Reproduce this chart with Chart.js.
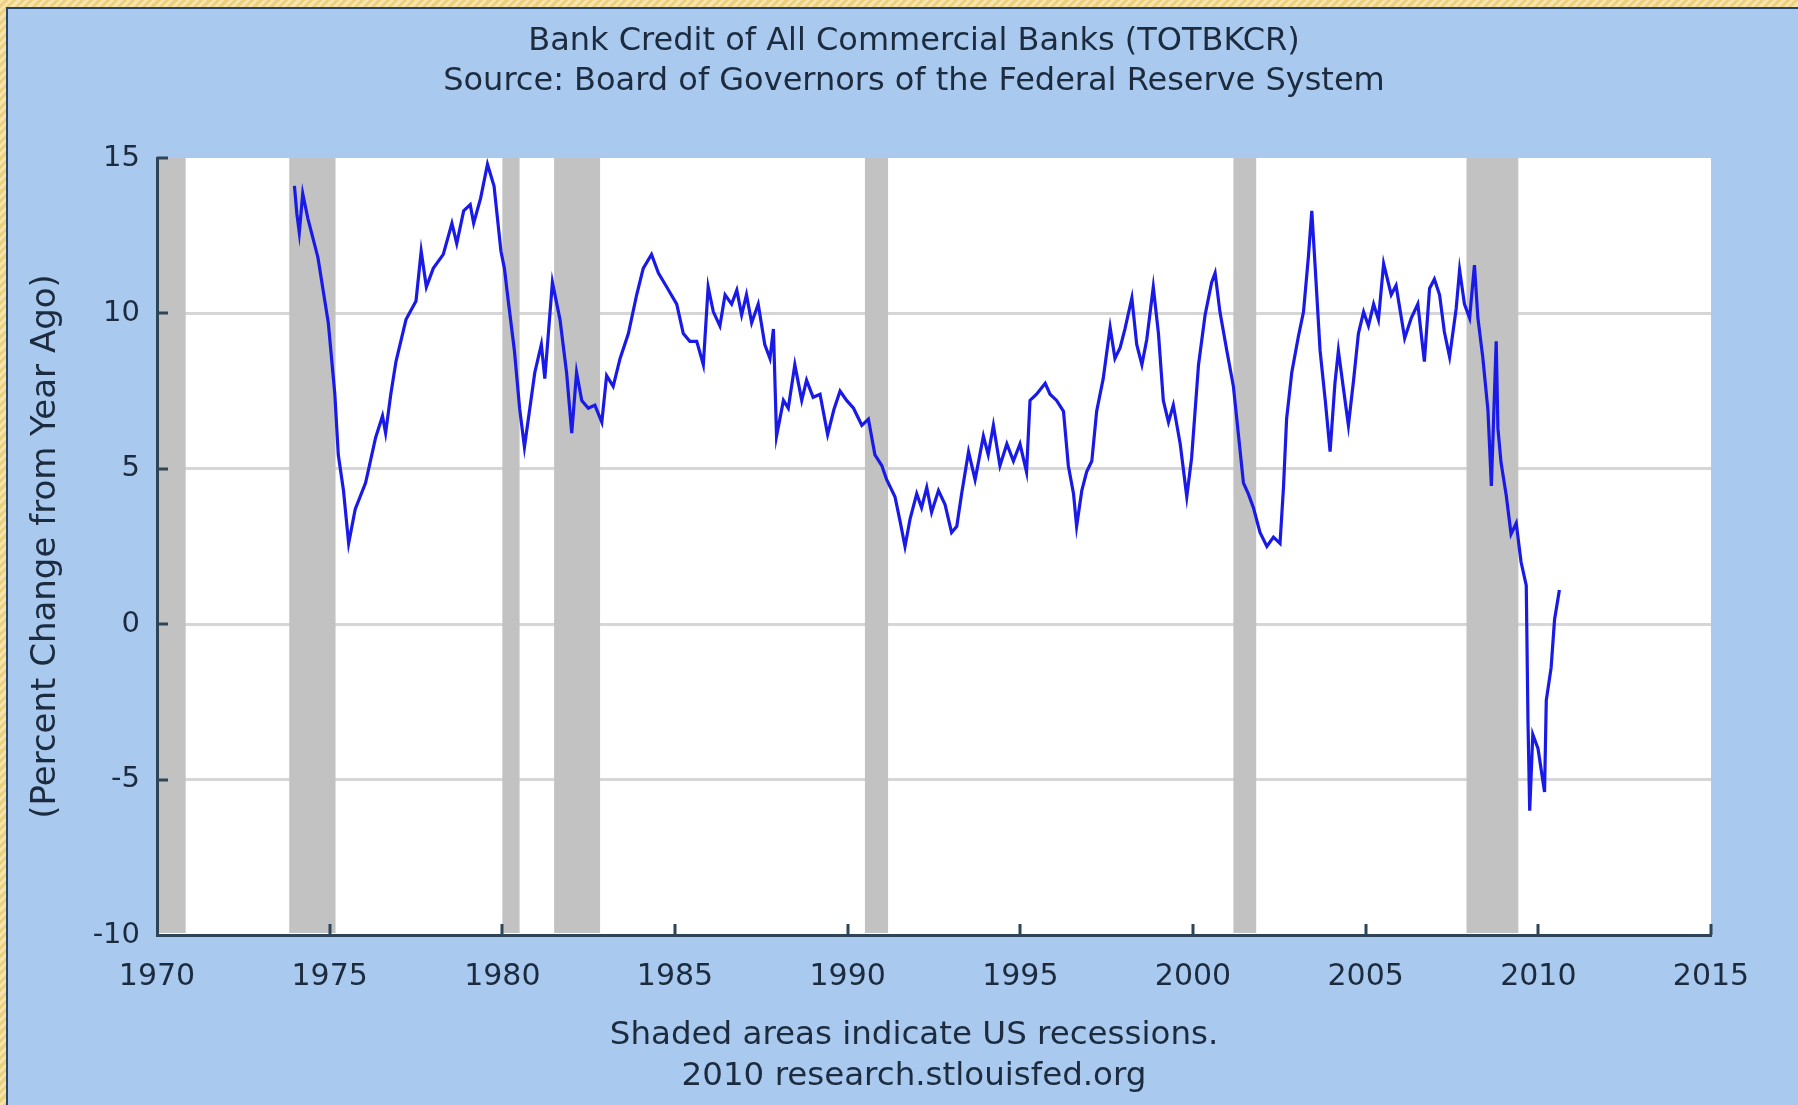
<!DOCTYPE html>
<html>
<head>
<meta charset="utf-8">
<script src="https://cdn.jsdelivr.net/npm/chart.js@4.4.1/dist/chart.umd.min.js"></script>
<style>
html,body{margin:0;padding:0;width:1798px;height:1105px;overflow:hidden;}
body{background:repeating-linear-gradient(135deg,#f8e4aa 0px,#f8e4aa 3px,#edcf80 3px,#edcf80 6px);}
#panel{position:absolute;left:6px;top:7px;right:0;bottom:0;background:#a9c9ef;border-left:2px solid #24466e;border-top:2px solid #24466e;}
#wrap{position:absolute;left:0;top:0;width:1810px;height:1105px;}
canvas{display:block;}
</style>
</head>
<body>
<div id="panel"></div>
<div id="wrap"><canvas id="c" width="1810" height="1105"></canvas></div>
<script>
// ---- text ----
const titleLines = ['Bank Credit of All Commercial Banks (TOTBKCR)', 'Source: Board of Governors of the Federal Reserve System'];
const footerLines = ['Shaded areas indicate US recessions.', '2010 research.stlouisfed.org'];
const yAxisTitle = '(Percent Change from Year Ago)';

// ---- ticks ----
const xTicks = [1970, 1975, 1980, 1985, 1990, 1995, 2000, 2005, 2010, 2015];
const xTickLabels = ['1970', '1975', '1980', '1985', '1990', '1995', '2000', '2005', '2010', '2015'];
const yTicks = [-10, -5, 0, 5, 10, 15];
const yTickLabels = ['-10', '-5', '0', '5', '10', '15'];

// ---- recessions (decimal years) ----
const recessionStart = [1969.92, 1973.83, 1980.0, 1981.5, 1990.5, 2001.17, 2007.92];
const recessionEnd   = [1970.83, 1975.17, 1980.5, 1982.83, 1991.17, 2001.83, 2009.42];

// ---- series: percent change from year ago ----
const years = [
1973.98,1974.05,1974.12,1974.22,1974.37,1974.66,1974.96,1975.15,1975.25,1975.40,1975.55,1975.74,
1976.04,1976.33,1976.53,1976.62,1976.77,1976.92,1977.21,1977.50,1977.65,1977.80,1978.00,1978.29,
1978.54,1978.68,1978.88,1979.07,1979.17,1979.37,1979.57,1979.76,1979.96,1980.06,1980.15,1980.35,
1980.50,1980.64,1980.74,1980.94,1981.13,1981.23,1981.45,1981.67,1981.86,1982.01,1982.15,1982.30,
1982.49,1982.68,1982.88,1983.02,1983.21,1983.41,1983.65,1983.89,1984.08,1984.32,1984.52,1984.76,
1985.05,1985.24,1985.43,1985.63,1985.82,1985.96,1986.11,1986.30,1986.45,1986.64,1986.79,1986.93,
1987.07,1987.22,1987.41,1987.60,1987.75,1987.85,1987.94,1988.14,1988.28,1988.47,1988.67,1988.81,
1989.00,1989.20,1989.42,1989.60,1989.78,1989.97,1990.17,1990.41,1990.60,1990.79,1990.99,1991.13,
1991.37,1991.52,1991.66,1991.81,1992.00,1992.14,1992.29,1992.43,1992.63,1992.82,1993.01,1993.16,
1993.30,1993.50,1993.69,1993.93,1994.07,1994.22,1994.41,1994.61,1994.80,1994.99,1995.18,1995.28,
1995.47,1995.72,1995.86,1996.05,1996.25,1996.39,1996.54,1996.63,1996.78,1996.92,1997.07,1997.21,
1997.40,1997.60,1997.74,1997.89,1998.03,1998.23,1998.37,1998.52,1998.66,1998.85,1999.00,1999.14,
1999.29,1999.43,1999.63,1999.82,1999.96,2000.16,2000.35,2000.54,2000.64,2000.78,2000.98,2001.17,
2001.32,2001.46,2001.60,2001.75,2001.94,2002.14,2002.33,2002.52,2002.62,2002.71,2002.86,2003.05,
2003.20,2003.34,2003.44,2003.54,2003.68,2003.83,2003.97,2004.11,2004.21,2004.36,2004.50,2004.65,
2004.79,2004.94,2005.08,2005.23,2005.37,2005.52,2005.74,2005.88,2006.13,2006.32,2006.51,2006.70,
2006.85,2006.99,2007.14,2007.28,2007.43,2007.62,2007.72,2007.86,2008.01,2008.15,2008.25,2008.39,
2008.54,2008.64,2008.78,2008.83,2008.92,2009.07,2009.21,2009.36,2009.50,2009.65,2009.70,2009.75,
2009.84,2009.99,2010.18,2010.23,2010.37,2010.47,2010.61
];
const values = [
14.1,13.2,12.6,13.85,13.05,11.8,9.7,7.4,5.45,4.3,2.6,3.7,
4.55,6.0,6.7,6.15,7.4,8.45,9.8,10.4,12.0,10.85,11.45,11.9,
12.9,12.25,13.3,13.5,12.9,13.7,14.8,14.1,12.0,11.45,10.6,8.8,
6.95,5.7,6.5,8.1,9.0,7.9,11.0,9.8,8.1,6.15,8.1,7.2,
6.95,7.05,6.5,8.0,7.65,8.55,9.35,10.6,11.45,11.9,11.3,10.85,
10.3,9.35,9.1,9.1,8.35,10.85,10.05,9.6,10.6,10.3,10.75,9.95,
10.6,9.7,10.3,9.0,8.55,9.5,6.05,7.2,6.95,8.35,7.2,7.85,
7.3,7.4,6.1,6.9,7.5,7.2,6.95,6.4,6.6,5.45,5.1,4.65,
4.1,3.3,2.5,3.4,4.2,3.75,4.4,3.6,4.3,3.85,2.95,3.15,
4.2,5.55,4.65,6.05,5.45,6.4,5.1,5.8,5.25,5.8,4.9,7.2,
7.4,7.75,7.4,7.2,6.85,5.1,4.2,3.15,4.3,4.9,5.25,6.85,
7.9,9.55,8.55,8.9,9.5,10.5,9.0,8.35,9.15,10.85,9.35,7.2,
6.5,7.05,5.8,4.1,5.35,8.35,9.95,11.0,11.3,10.05,8.8,7.65,
6.05,4.55,4.2,3.75,2.95,2.5,2.8,2.6,4.4,6.6,8.1,9.25,
10.05,11.8,13.3,11.45,8.8,7.2,5.55,7.75,8.8,7.55,6.4,7.85,
9.35,10.05,9.6,10.3,9.8,11.6,10.6,10.9,9.2,9.85,10.3,8.45,
10.8,11.1,10.6,9.4,8.6,10.15,11.4,10.3,9.85,11.55,9.85,8.6,
6.9,4.45,9.1,6.3,5.2,4.15,2.9,3.25,2.0,1.25,-3.1,-6.0,
-3.55,-4.0,-5.4,-2.45,-1.4,0.15,1.1
];

const textColor = '#1c2b3e';
const axisColor = '#2e4557';
const FONT = "'DejaVu Sans', Verdana, sans-serif";

const decor = {
  id: 'decor',
  beforeDraw(chart) {
    const {ctx, chartArea: a} = chart;
    ctx.save();
    ctx.fillStyle = '#ffffff';
    ctx.fillRect(a.left, a.top, a.right - a.left, a.bottom - a.top);
    ctx.restore();
  },
  beforeDatasetsDraw(chart) {
    const {ctx, chartArea: a} = chart;
    const xs = chart.scales.x, ys = chart.scales.y;
    ctx.save();
    ctx.fillStyle = '#c2c2c2';
    for (let i = 0; i < recessionStart.length; i++) {
      const x0 = Math.max(xs.getPixelForValue(recessionStart[i]), a.left + 2);
      const x1 = Math.min(xs.getPixelForValue(recessionEnd[i]), a.right);
      if (x1 > x0) ctx.fillRect(x0, a.top, x1 - x0, a.bottom - a.top - 2);
    }
    ctx.strokeStyle = axisColor;
    ctx.lineWidth = 3;
    ctx.beginPath();
    xTicks.forEach(v => {
      if (v === xTicks[0]) return;
      const px = Math.round(xs.getPixelForValue(v));
      ctx.moveTo(px, a.bottom);
      ctx.lineTo(px, a.bottom - 11);
    });
    yTicks.forEach(v => {
      if (v === yTicks[0]) return;
      const py = Math.round(ys.getPixelForValue(v));
      ctx.moveTo(a.left, py);
      ctx.lineTo(a.left + 11, py);
    });
    ctx.stroke();
    ctx.restore();
  }
};

new Chart(document.getElementById('c'), {
  type: 'line',
  data: {
    datasets: [{
      data: years.map((x, i) => ({x: x, y: values[i]})),
      borderColor: 'rgb(26,26,232)',
      borderWidth: 3.2,
      pointRadius: 0,
      tension: 0,
      fill: false,
      yAxisID: 'y'
    }]
  },
  options: {
    responsive: false,
    animation: false,
    events: [],
    layout: {padding: {left: 20, right: 2, top: 0, bottom: 0}},
    plugins: {
      legend: {display: false},
      tooltip: {enabled: false},
      title: {
        display: true, position: 'top', text: titleLines, color: textColor,
        font: {family: FONT, size: 32, weight: 'normal', lineHeight: 40 / 32},
        padding: {top: 22, bottom: 56}
      },
      subtitle: {
        display: true, position: 'bottom', text: footerLines, color: textColor,
        font: {family: FONT, size: 32.5, weight: 'normal', lineHeight: 41 / 32.5},
        padding: {top: 0, bottom: 8}
      }
    },
    scales: {
      x: {
        type: 'linear', min: 1970, max: 2015,
        afterBuildTicks: s => { s.ticks = xTicks.map(v => ({value: v})); },
        afterFit: s => { s.height = 80; },
        ticks: {
          color: textColor, font: {family: FONT, size: 30}, padding: 24,
          maxRotation: 0, autoSkip: false,
          callback: (v, i) => xTickLabels[i]
        },
        grid: {display: true, color: 'rgba(0,0,0,0)', drawTicks: false},
        border: {display: true, color: axisColor, width: 3}
      },
      y: {
        type: 'linear', position: 'left', min: -10, max: 15,
        afterBuildTicks: s => { s.ticks = yTicks.map(v => ({value: v})); },
        afterFit: s => { s.width = 137; },
        ticks: {
          color: textColor, font: {family: FONT, size: 29}, padding: 17,
          callback: (v, i) => yTickLabels[i]
        },
        grid: {
          drawTicks: false, lineWidth: 3,
          color: c => (c.tick && (c.tick.value === 15 || c.tick.value === -10)) ? 'rgba(0,0,0,0)' : '#d6d6d6'
        },
        border: {display: true, color: axisColor, width: 3},
        title: {
          display: true, text: yAxisTitle, color: textColor,
          font: {family: FONT, size: 34, lineHeight: 1.2},
          padding: {top: 6, bottom: 0}
        }
      },
      yRight: {
        type: 'linear', position: 'right', min: -10, max: 15,
        afterFit: s => { s.width = 97; },
        ticks: {display: false},
        grid: {display: false, drawTicks: false},
        border: {display: false}
      }
    }
  },
  plugins: [decor]
});
</script>
</body>
</html>
